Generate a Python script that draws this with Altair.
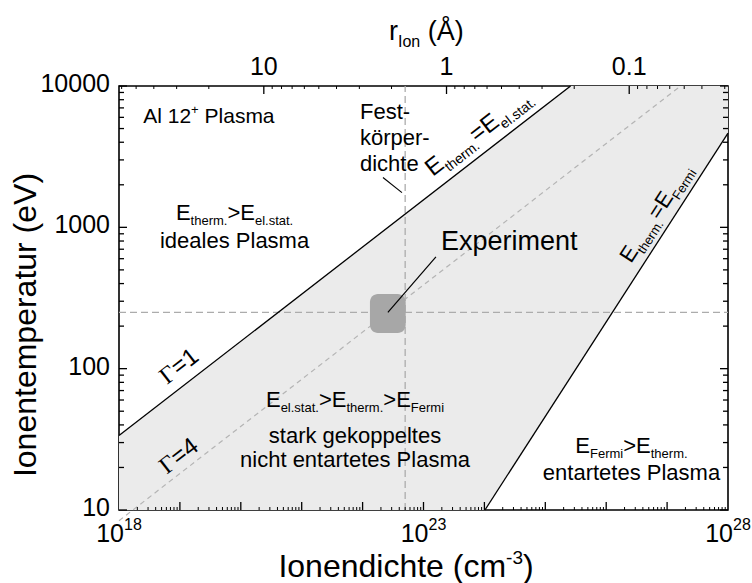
import math
import altair as alt
import pandas as pd

FONT = "Liberation Sans"
SERIF = "Liberation Serif"

# ---------------- data ----------------
x_domain = [1e18, 1e28]          # Ionendichte (cm^-3)
y_domain = [10, 10000]           # Ionentemperatur (eV)

y_tick_values = [10, 100, 1000, 10000]
y_tick_labels = ["10", "100", "1000", "10000"]
y_minor = [m * 10 ** k for k in (1, 2, 3) for m in range(2, 10)]

x_major = [10.0 ** k for k in range(19, 28)]
x_minor = [m * 10.0 ** k for k in range(18, 28) for m in range(2, 10)]
x_label_values = [1e18, 1e23, 1e28]
x_label_exps = ["18", "23", "28"]

r_major = [10, 1, 0.1]           # r_Ion in Angstrom (top axis)
r_labels = ["10", "1", "0.1"]
r_minor = [20, 30, 40, 50, 60, 2, 3, 4, 5, 6, 7, 8, 9,
           0.2, 0.3, 0.4, 0.5, 0.6, 0.7, 0.8, 0.9,
           0.03, 0.04, 0.05, 0.06, 0.07, 0.08, 0.09]

# boundary lines (end points)
gamma1_n = [1e18, 2.6e25]
gamma1_T = [33.6, 10000]
gamma4_n = [1e18, 1.66e27]
gamma4_T = [8.4, 10000]
fermi_n = [1.02e24, 1e28]
fermi_T = [10, 4640]

# shaded region (strongly coupled, non-degenerate)
band_n = [1e18, 1.02e24, 2.6e25, 1e28]
band_lo = [10, 10, 87, 4640]
band_hi = [33.6, 3395, 10000, 10000]

# reference lines
solid_density = 5e22
exp_temperature = 250

# experiment box
exp_box_n = [1.32e22, 5.1e22]
exp_box_T = [179, 338]
exp_leader_n = [2.6e22, 1.6e23]
exp_leader_T = [250, 618]
fest_leader_n = [2.16e22, 4.43e22]
fest_leader_T = [2254, 1762]

W, H = 609, 424

xs = alt.Scale(type="log", domain=x_domain, nice=False)
ys = alt.Scale(type="log", domain=y_domain, nice=False)

# slopes of the lines on screen (degrees, clockwise)
ppd_x = W / 10.0
ppd_y = H / 3.0
ang_gamma = 360 - math.degrees(math.atan((ppd_y / 3) / ppd_x))
ang_fermi = 360 - math.degrees(math.atan((2 * ppd_y / 3) / ppd_x))


def r_to_n(r):
    # Wigner-Seitz radius (Angstrom) -> ion density (cm^-3)
    rc = r * 1e-8
    return 3.0 / (4 * math.pi * rc ** 3)


WID = {' ': 278, '(': 333, ')': 333, '+': 584, '-': 333, '.': 278, '=': 584, '>': 584,
       'A': 667, 'E': 667, 'F': 611, 'I': 278, 'P': 667, 'V': 667, 'Å': 667, 'Γ': 611,
       'a': 556, 'c': 500, 'd': 556, 'e': 556, 'g': 556, 'h': 556, 'i': 222, 'k': 500,
       'l': 222, 'm': 833, 'n': 556, 'o': 556, 'p': 556, 'r': 333, 's': 500, 't': 278,
       'u': 556, 'ö': 556}


def tw(s, size):
    return sum(WID.get(c, 556) for c in s) * size / 1000.0


def rich(segs, x, y, align="left", angle=0, size=22, small=13, sub_dy=6, sup_dy=-9,
         dy=0, xpix=False, ypix=False):
    df = pd.DataFrame({"x": [x], "y": [y]})
    enc = {}
    enc["x"] = alt.value(x) if xpix else alt.X("x:Q", scale=xs, axis=None)
    enc["y"] = alt.value(y) if ypix else alt.Y("y:Q", scale=ys, axis=None)
    items = []
    for seg in segs:
        text, kind = seg[0], seg[1]
        font = seg[2] if len(seg) > 2 else FONT
        fs = size if kind == "n" else small
        sh = 0 if kind == "n" else (sub_dy if kind == "sub" else sup_dy)
        items.append((text, fs, sh, font))
    total = sum(tw(t, fs) for t, fs, _, _ in items)
    pos = 0.0 if align == "left" else (-total / 2 if align == "center" else -total)
    layers = []
    for text, fs, sh, font in items:
        lead = len(text) - len(text.lstrip(" "))
        start = pos + tw(" " * lead, fs)
        shown = text.strip(" ")
        if shown:
            layers.append(
                alt.Chart(df).mark_text(text=shown, align="left", baseline="alphabetic",
                                        dx=start, dy=dy + sh, fontSize=fs, font=font,
                                        angle=angle, color="black").encode(**enc))
        pos += tw(text, fs)
    return layers


layers = []

# shaded band
band = pd.DataFrame({"x": band_n, "lo": band_lo, "hi": band_hi})
layers.append(alt.Chart(band).mark_area(color="#ebebeb", opacity=1).encode(
    x=alt.X("x:Q", scale=xs, axis=None),
    y=alt.Y("lo:Q", scale=ys, axis=None),
    y2="hi:Q"))

# dashed reference lines
hline = pd.DataFrame({"x": x_domain, "y": [exp_temperature, exp_temperature]})
vline = pd.DataFrame({"x": [solid_density, solid_density], "y": y_domain})
for d in (hline, vline):
    layers.append(alt.Chart(d).mark_line(color="#acacac", strokeWidth=1.3,
                                         strokeDash=[7, 4]).encode(
        x=alt.X("x:Q", scale=xs, axis=None), y=alt.Y("y:Q", scale=ys, axis=None)))

# Gamma = 4 (dashed)
g4 = pd.DataFrame({"x": gamma4_n, "y": gamma4_T})
layers.append(alt.Chart(g4).mark_line(color="#b4b4b4", strokeWidth=1.2,
                                      strokeDash=[5, 4]).encode(
    x=alt.X("x:Q", scale=xs, axis=None), y=alt.Y("y:Q", scale=ys, axis=None)))

# experiment box
box = pd.DataFrame({"x": [exp_box_n[0]], "x2": [exp_box_n[1]],
                    "y": [exp_box_T[0]], "y2": [exp_box_T[1]]})
layers.append(alt.Chart(box).mark_rect(color="#a7a7a7", cornerRadius=8).encode(
    x=alt.X("x:Q", scale=xs, axis=None), x2="x2:Q",
    y=alt.Y("y:Q", scale=ys, axis=None), y2="y2:Q"))

# solid lines: Gamma=1, Fermi, leaders
for nn, TT, sw in ((gamma1_n, gamma1_T, 1.3), (fermi_n, fermi_T, 1.3),
                   (exp_leader_n, exp_leader_T, 1.2), (fest_leader_n, fest_leader_T, 1.1)):
    d = pd.DataFrame({"x": nn, "y": TT})
    layers.append(alt.Chart(d).mark_line(color="black", strokeWidth=sw).encode(
        x=alt.X("x:Q", scale=xs, axis=None), y=alt.Y("y:Q", scale=ys, axis=None)))


# ---------------- ticks (inward) ----------------
def yticks(vals, length):
    d = pd.DataFrame({"y": vals})
    out = []
    for x0, x1 in ((0, length), (W, W - length)):
        out.append(alt.Chart(d).mark_rule(color="black", strokeWidth=1.3).encode(
            y=alt.Y("y:Q", scale=ys, axis=None), x=alt.value(x0), x2=alt.value(x1)))
    return out


def xticks(vals, y0, y1, sw=1.3):
    d = pd.DataFrame({"x": vals})
    return alt.Chart(d).mark_rule(color="black", strokeWidth=sw).encode(
        x=alt.X("x:Q", scale=xs, axis=None), y=alt.value(y0), y2=alt.value(y1))


layers += yticks(y_tick_values, 8)
layers += yticks(y_minor, 5)
layers.append(xticks(x_major, H, H - 8))
layers.append(xticks(x_minor, H, H - 3, 1.0))
layers.append(xticks([r_to_n(r) for r in r_major], 0, 8))
layers.append(xticks([r_to_n(r) for r in r_minor], 0, 3, 1.0))

# ---------------- tick labels ----------------
yl = pd.DataFrame({"y": y_tick_values, "t": y_tick_labels})
layers.append(alt.Chart(yl).mark_text(align="right", baseline="middle", fontSize=25,
                                      font=FONT, dy=-2, color="black").encode(
    y=alt.Y("y:Q", scale=ys, axis=None), x=alt.value(-9), text="t:N"))

tl = pd.DataFrame({"x": [r_to_n(r) for r in r_major], "t": r_labels})
layers.append(alt.Chart(tl).mark_text(align="center", baseline="alphabetic", fontSize=25,
                                      font=FONT, color="black").encode(
    x=alt.X("x:Q", scale=xs, axis=None), y=alt.value(-11), text="t:N"))

for v, e in zip(x_label_values, x_label_exps):
    layers += rich([("10", "n"), (e, "sup")], v, H + 32, align="center",
                   size=25, small=16, sup_dy=-12, ypix=True)

# ---------------- axis titles ----------------
layers.append(alt.Chart(pd.DataFrame({"a": [0]})).mark_text(
    text="Ionentemperatur (eV)", angle=270, align="center", baseline="alphabetic",
    fontSize=32, font=FONT, color="black").encode(x=alt.value(-83), y=alt.value(239)))

layers += rich([("Ionendichte (cm", "n"), ("-3", "sup"), (")", "n")], 287, H + 67,
               align="center", size=32, small=19, sup_dy=-13, xpix=True, ypix=True)

layers += rich([("r", "n"), ("Ion", "sub"), (" (Å)", "n")], 270, -46,
               align="left", size=27, small=16, sub_dy=7, xpix=True, ypix=True)

# ---------------- annotations ----------------
layers += rich([("Al 12", "n"), ("+", "sup"), (" Plasma", "n")], 2.5e18, 5480,
               size=21, small=13, sup_dy=-9)

layers += rich([("E", "n"), ("therm.", "sub"), (">E", "n"), ("el.stat.", "sub")],
               7.9e19, 1120, align="center", size=22, small=13, sub_dy=5)
layers += rich([("ideales Plasma", "n")], 7.9e19, 714, align="center", size=22)

layers += rich([("E", "n"), ("el.stat.", "sub"), (">E", "n"), ("therm.", "sub"),
                (">E", "n"), ("Fermi", "sub")], 7.5e21, 53.5, align="center", size=22,
               small=13, sub_dy=5)
layers += rich([("stark gekoppeltes", "n")], 7.5e21, 29.8, align="center", size=22)
layers += rich([("nicht entartetes Plasma", "n")], 7.5e21, 20.1, align="center", size=22)

layers += rich([("E", "n"), ("Fermi", "sub"), (">E", "n"), ("therm.", "sub")],
               2.6e26, 25.5, align="center", size=22, small=13, sub_dy=5)
layers += rich([("entartetes Plasma", "n")], 2.6e26, 16.3, align="center", size=22)

for txt, T in (("Fest-", 5850), ("körper-", 3830), ("dichte", 2506)):
    layers += rich([(txt, "n")], 9.06e21, T, size=22)

layers += rich([("Experiment", "n")], 1.94e23, 692, size=27)

layers += rich([("E", "n"), ("therm.", "sub"), ("=E", "n"), ("el.stat.", "sub")],
               1.9e23, 1932, angle=ang_gamma, size=24, small=14, dy=-12.5)
layers += rich([("E", "n"), ("therm.", "sub"), ("=E", "n"), ("Fermi", "sub")],
               3.63e26, 500, angle=ang_fermi, size=22, small=13, dy=-11)
layers += rich([("Γ", "n", SERIF), ("=1", "n")], 7.85e18, 66.8, angle=ang_gamma,
               size=24, dy=-10.7)
layers += rich([("Γ", "n", SERIF), ("=4", "n")], 7.15e18, 16.2, angle=ang_gamma,
               size=24, dy=-7)

chart = alt.layer(*layers).properties(
    width=W, height=H,
    autosize=alt.AutoSizeParams(type="none"),
    padding={"left": 119, "top": 86, "right": 24, "bottom": 73},
    background="white",
).configure_view(stroke="black", strokeWidth=1.6)

chart.save("out.html", embed_options={"renderer": "svg", "actions": False})
